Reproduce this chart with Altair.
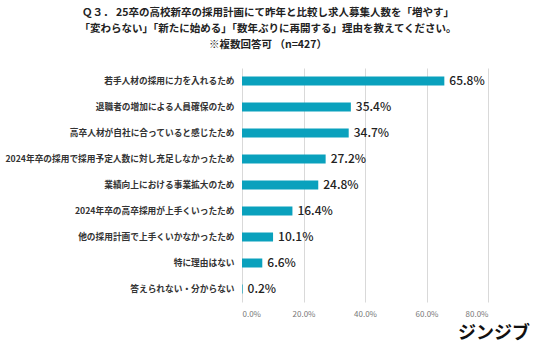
import altair as alt
import pandas as pd

categories = [
    "若手人材の採用に力を入れるため",
    "退職者の増加による人員確保のため",
    "高卒人材が自社に合っていると感じたため",
    "2024年卒の採用で採用予定人数に対し充足しなかったため",
    "業績向上における事業拡大のため",
    "2024年卒の高卒採用が上手くいったため",
    "他の採用計画で上手くいかなかったため",
    "特に理由はない",
    "答えられない・分からない",
]
values = [65.8, 35.4, 34.7, 27.2, 24.8, 16.4, 10.1, 6.6, 0.2]
x_ticks = [0, 20, 40, 60, 80]
title_lines = [
    "Ｑ３． 25卒の高校新卒の採用計画にて昨年と比較し求人募集人数を「増やす」",
    "「変わらない」「新たに始める」「数年ぶりに再開する」理由を教えてください。",
    "※複数回答可 （n=427）",
]
logo = "ジンジブ"

df = pd.DataFrame({"cat": categories, "val": values})
df["lab"] = [f"{v:.1f}%" for v in values]

FONT = "Noto Sans CJK JP"
W, H = 246, 234
LEFT, TOP = 242, 68

x = alt.X("val:Q", scale=alt.Scale(domain=[0, 80], nice=False),
          axis=alt.Axis(values=x_ticks, labelExpr="format(datum.value, '.1f') + '%'",
                        title=None, domain=False, ticks=False, grid=True,
                        gridColor="#d9d9d9", gridWidth=1, labelFont=FONT,
                        labelFontSize=8, labelColor="#777777", labelPadding=8))
y = alt.Y("cat:N", sort=categories,
          axis=alt.Axis(title=None, domain=False, ticks=False, labelFont=FONT,
                        labelFontSize=8.7, labelFontWeight="bold", labelColor="#333333",
                        labelPadding=8, labelLimit=300))

bars = alt.Chart(df).mark_bar(color="#0aa1bd", size=9).encode(x=x, y=y)
labels = alt.Chart(df).mark_text(align="left", baseline="middle", dx=5, font=FONT,
                                 fontSize=12, color="#222222", fontWeight=500).encode(
    x="val:Q", y=alt.Y("cat:N", sort=categories), text="lab:N")

layers = [bars, labels]
title_y = [13, 29, 45]
for line, ty in zip(title_lines, title_y):
    tdf = pd.DataFrame({"t": [line]})
    layers.append(
        alt.Chart(tdf).mark_text(align="center", baseline="middle", font=FONT,
                                 fontSize=10.5, fontWeight="bold", color="#222222").encode(
            x=alt.value(268 - LEFT), y=alt.value(ty - TOP), text="t:N"))

ldf = pd.DataFrame({"t": [logo]})
layers.append(alt.Chart(ldf).mark_text(align="right", baseline="middle", font=FONT,
                                       fontSize=18, fontWeight="bold", color="#111111").encode(
    x=alt.value(530 - LEFT), y=alt.value(334 - TOP), text="t:N"))

chart = alt.layer(*layers).properties(
    width=W, height=H,
    autosize=alt.AutoSizeParams(type="none"),
    padding={"left": LEFT, "top": TOP, "right": 536 - LEFT - W, "bottom": 354 - TOP - H},
    background="white",
).configure_view(stroke=None)

chart.save("out.html", embed_options={"renderer": "svg", "actions": False})
